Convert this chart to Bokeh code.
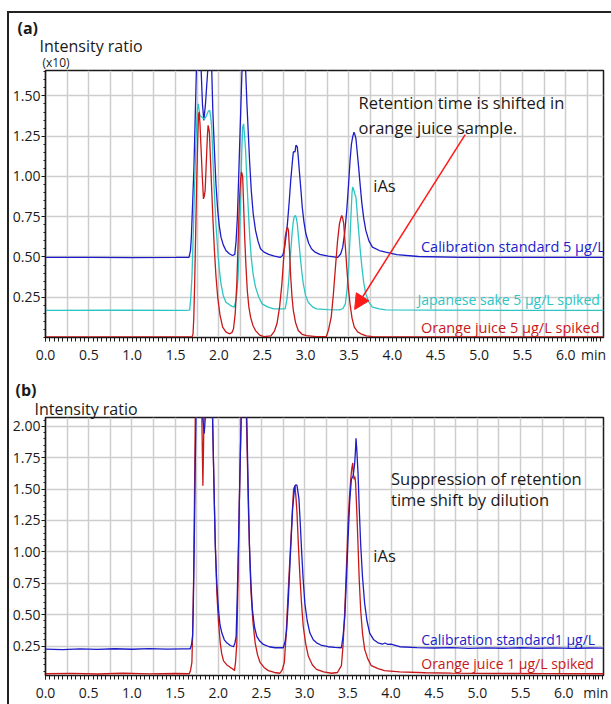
from bokeh.plotting import figure
from bokeh.layouts import column
from bokeh.models import (Range1d, FixedTicker, SingleIntervalTicker, PrintfTickFormatter,
                          Label, Arrow, NormalHead, Title)
from bokeh.embed import file_html
from bokeh.resources import INLINE

FONT = "Open Sans"

# ---------------- data ----------------
# panel (a): retention time (min), intensity ratio (x10)
a_cal = [(0.00,0.497),(0.50,0.498),(1.00,0.496),(1.50,0.497),(1.655,0.498),(1.672,0.54),(1.682,0.623),(1.698,0.85),
         (1.712,1.058),(1.728,1.40),(1.740,1.66),(1.765,1.70),(1.795,1.66),(1.810,1.45),(1.826,1.348),(1.845,1.45),
         (1.871,1.66),(1.895,1.70),(1.917,1.66),(1.930,1.40),(1.948,1.161),(1.966,0.95),(1.986,0.789),(2.005,0.69),
         (2.024,0.623),(2.050,0.575),(2.081,0.540),(2.120,0.52),(2.156,0.509),(2.183,0.516),(2.198,0.60),(2.213,0.747),
         (2.228,1.00),(2.243,1.265),(2.266,1.66),(2.288,1.70),(2.308,1.66),(2.323,1.45),(2.339,1.265),(2.355,1.08),
         (2.373,0.913),(2.395,0.77),(2.422,0.665),(2.450,0.60),(2.479,0.551),(2.52,0.53),(2.574,0.516),(2.64,0.505),
         (2.707,0.497),(2.735,0.51),(2.752,0.54),(2.770,0.61),(2.790,0.706),(2.810,0.84),(2.828,0.975),(2.845,1.08),
         (2.858,1.151),(2.870,1.155),(2.877,1.151),(2.888,1.193),(2.896,1.19),(2.904,1.183),(2.915,1.12),(2.927,1.037),
         (2.945,0.92),(2.961,0.809),(2.980,0.72),(3.003,0.644),(3.035,0.585),(3.067,0.551),(3.11,0.53),(3.162,0.516),
         (3.26,0.505),(3.371,0.497),(3.405,0.52),(3.428,0.561),(3.450,0.65),(3.474,0.789),(3.495,0.95),(3.512,1.099),
         (3.528,1.20),(3.542,1.244),(3.557,1.275),(3.568,1.26),(3.580,1.234),(3.595,1.15),(3.611,1.058),(3.630,0.94),
         (3.649,0.83),(3.670,0.74),(3.694,0.665),(3.73,0.60),(3.770,0.561),(3.85,0.54),(3.922,0.530),(4.05,0.515),
         (4.3,0.503),(4.8,0.498),(5.5,0.497),(6.0,0.497),(6.45,0.497)]

a_sake = [(0.00,0.168),(0.8,0.170),(1.60,0.168),(1.663,0.170),(1.676,0.25),(1.689,0.375),(1.705,0.66),(1.720,0.955),
          (1.735,1.22),(1.750,1.41),(1.761,1.451),(1.770,1.42),(1.780,1.379),(1.800,1.37),(1.820,1.36),(1.833,1.358),
          (1.850,1.37),(1.865,1.39),(1.879,1.406),(1.894,1.41),(1.905,1.37),(1.917,1.306),(1.930,1.12),(1.948,0.892),
          (1.966,0.70),(1.986,0.54),(2.005,0.42),(2.024,0.333),(2.050,0.26),(2.081,0.219),(2.130,0.20),(2.176,0.188),
          (2.200,0.24),(2.221,0.375),(2.236,0.60),(2.251,0.851),(2.263,1.15),(2.274,1.306),(2.285,1.327),(2.296,1.25),
          (2.308,1.161),(2.322,0.98),(2.339,0.789),(2.355,0.63),(2.373,0.495),(2.395,0.39),(2.422,0.313),(2.46,0.25),
          (2.498,0.209),(2.56,0.19),(2.631,0.178),(2.764,0.178),(2.785,0.24),(2.802,0.333),(2.820,0.47),(2.840,0.623),
          (2.855,0.71),(2.867,0.747),(2.882,0.758),(2.893,0.74),(2.904,0.706),(2.918,0.62),(2.935,0.52),(2.953,0.42),
          (2.973,0.333),(3.000,0.26),(3.030,0.219),(3.08,0.19),(3.124,0.178),(3.25,0.173),(3.390,0.172),(3.430,0.18),
          (3.458,0.209),(3.478,0.30),(3.496,0.437),(3.512,0.62),(3.527,0.809),(3.535,0.90),(3.542,0.934),(3.550,0.925),
          (3.557,0.913),(3.568,0.89),(3.580,0.872),(3.595,0.77),(3.611,0.665),(3.630,0.54),(3.649,0.437),(3.670,0.34),
          (3.694,0.271),(3.73,0.22),(3.770,0.188),(3.85,0.178),(3.922,0.172),(4.5,0.170),(5.5,0.168),(6.45,0.168)]

a_oj = [(0.00,0.003),(1.0,0.004),(1.690,0.004),(1.701,0.02),(1.710,0.12),(1.720,0.333),(1.732,0.65),(1.743,0.955),
        (1.755,1.22),(1.765,1.386),(1.773,1.40),(1.782,1.32),(1.795,1.161),(1.808,1.00),(1.822,0.861),(1.832,0.88),
        (1.841,0.913),(1.850,1.03),(1.860,1.161),(1.868,1.26),(1.875,1.317),(1.882,1.30),(1.890,1.275),(1.903,1.10),
        (1.917,0.913),(1.932,0.72),(1.948,0.54),(1.966,0.38),(1.986,0.25),(2.012,0.14),(2.043,0.064),(2.08,0.035),
        (2.119,0.023),(2.150,0.03),(2.168,0.054),(2.188,0.15),(2.206,0.333),(2.222,0.60),(2.236,0.851),(2.250,0.98),
        (2.259,1.027),(2.266,1.02),(2.274,0.996),(2.285,0.82),(2.297,0.623),(2.312,0.44),(2.327,0.292),(2.345,0.19),
        (2.365,0.126),(2.392,0.075),(2.422,0.043),(2.47,0.015),(2.517,0.005),(2.60,0.01),(2.640,0.04),(2.669,0.085),
        (2.700,0.19),(2.726,0.333),(2.745,0.48),(2.764,0.623),(2.780,0.67),(2.790,0.685),(2.802,0.665),(2.815,0.53),
        (2.828,0.375),(2.843,0.25),(2.858,0.168),(2.885,0.09),(2.915,0.043),(2.96,0.02),(3.010,0.012),(3.12,0.006),
        (3.238,0.005),(3.265,0.05),(3.295,0.126),(3.320,0.27),(3.344,0.437),(3.368,0.60),(3.390,0.706),(3.405,0.74),
        (3.417,0.758),(3.428,0.74),(3.439,0.706),(3.456,0.58),(3.474,0.437),(3.492,0.31),(3.512,0.209),(3.535,0.12),
        (3.561,0.064),(3.600,0.035),(3.637,0.023),(3.70,0.01),(3.770,0.005),(4.5,0.004),(5.5,0.003),(6.45,0.003)]

# panel (b): retention time (min), intensity ratio
b_cal = [(0.00,0.226),(0.2,0.222),(0.4,0.228),(0.6,0.224),(0.8,0.229),(1.0,0.225),(1.2,0.23),(1.4,0.226),(1.6,0.228),
         (1.676,0.229),(1.690,0.26),(1.703,0.328),(1.712,0.60),(1.722,1.057),(1.732,1.60),(1.742,2.07),(1.765,2.10),
         (1.800,2.10),(1.820,2.07),(1.838,1.943),(1.850,2.07),(1.880,2.10),(1.915,2.10),(1.934,2.07),(1.950,1.55),
         (1.965,1.057),(1.983,0.75),(2.003,0.536),(2.020,0.42),(2.042,0.354),(2.070,0.30),(2.099,0.276),(2.14,0.255),
         (2.176,0.245),(2.192,0.27),(2.207,0.328),(2.220,0.65),(2.234,1.057),(2.250,1.60),(2.265,2.07),(2.295,2.10),
         (2.330,2.07),(2.345,1.55),(2.361,1.057),(2.378,0.75),(2.396,0.536),(2.420,0.40),(2.446,0.328),(2.48,0.29),
         (2.522,0.263),(2.59,0.245),(2.657,0.237),(2.753,0.237),(2.775,0.29),(2.792,0.380),(2.810,0.60),(2.830,0.901),
         (2.846,1.13),(2.861,1.344),(2.875,1.45),(2.888,1.526),(2.900,1.535),(2.911,1.531),(2.922,1.48),(2.934,1.422),
         (2.950,1.22),(2.965,1.005),(2.983,0.78),(3.003,0.588),(3.030,0.45),(3.061,0.354),(3.10,0.30),(3.138,0.276),
         (3.20,0.255),(3.272,0.245),(3.35,0.24),(3.426,0.237),(3.445,0.33),(3.465,0.484),(3.485,0.80),(3.503,1.109),
         (3.522,1.40),(3.541,1.578),(3.561,1.604),(3.570,1.65),(3.580,1.708),(3.588,1.80),(3.595,1.904),(3.605,1.80),
         (3.618,1.63),(3.632,1.35),(3.649,1.057),(3.670,0.80),(3.695,0.588),(3.722,0.45),(3.753,0.354),(3.80,0.30),
         (3.849,0.276),(3.90,0.265),(3.930,0.275),(3.964,0.263),(4.00,0.266),(4.1,0.245),(4.3,0.238),(4.5,0.235),
         (4.7,0.238),(4.9,0.232),(5.1,0.236),(5.3,0.233),(5.5,0.237),(5.7,0.233),(5.9,0.236),(6.1,0.232),(6.3,0.235),
         (6.46,0.234)]

b_oj = [(0.00,0.030),(0.3,0.033),(0.6,0.028),(0.9,0.034),(1.2,0.029),(1.5,0.032),(1.665,0.03),(1.680,0.06),(1.695,0.12),
        (1.705,0.40),(1.715,0.797),(1.725,1.45),(1.734,2.07),(1.760,2.10),(1.810,2.07),(1.822,1.526),(1.835,2.07),
        (1.870,2.10),(1.920,2.10),(1.934,2.07),(1.945,1.70),(1.957,1.318),(1.970,0.97),(1.984,0.667),(2.003,0.44),
        (2.023,0.276),(2.040,0.19),(2.061,0.133),(2.10,0.10),(2.138,0.081),(2.165,0.07),(2.188,0.055),(2.200,0.12),
        (2.215,0.276),(2.228,0.75),(2.242,1.318),(2.265,2.07),(2.295,2.10),(2.326,2.07),(2.338,1.70),(2.350,1.318),
        (2.365,0.95),(2.380,0.667),(2.402,0.44),(2.427,0.276),(2.455,0.18),(2.484,0.12),(2.53,0.08),(2.580,0.055),
        (2.65,0.04),(2.715,0.034),(2.740,0.06),(2.765,0.12),(2.785,0.33),(2.803,0.588),(2.822,0.85),(2.842,1.109),
        (2.858,1.33),(2.872,1.50),(2.888,1.526),(2.900,1.43),(2.911,1.318),(2.928,1.05),(2.946,0.797),(2.965,0.58),
        (2.984,0.406),(3.012,0.27),(3.042,0.172),(3.09,0.10),(3.138,0.065),(3.22,0.045),(3.311,0.034),(3.380,0.04),
        (3.426,0.094),(3.445,0.26),(3.465,0.536),(3.485,0.90),(3.503,1.240),(3.520,1.45),(3.534,1.578),(3.545,1.66),
        (3.557,1.708),(3.565,1.62),(3.573,1.578),(3.582,1.60),(3.590,1.55),(3.605,1.30),(3.618,1.057),(3.632,0.78),
        (3.649,0.536),(3.670,0.35),(3.695,0.224),(3.730,0.15),(3.772,0.094),(3.85,0.07),(3.926,0.055),(4.1,0.045),
        (4.4,0.038),(4.7,0.035),(5.0,0.033),(5.4,0.032),(5.8,0.031),(6.2,0.030),(6.46,0.030)]

x_ticks = [0.0, 0.5, 1.0, 1.5, 2.0, 2.5, 3.0, 3.5, 4.0, 4.5, 5.0, 5.5, 6.0]
ya_ticks = [0.25, 0.50, 0.75, 1.00, 1.25, 1.50]
yb_ticks = [0.25, 0.50, 0.75, 1.00, 1.25, 1.50, 1.75, 2.00]
unit_pos_a = 6.32   # where the "min" unit sits on the time axis
unit_pos_b = 6.37

a_labels = ["Calibration standard 5 µg/L", "Japanese sake 5 µg/L spiked", "Orange juice 5 µg/L spiked"]
b_labels = ["Calibration standard1 µg/L", "Orange juice 1 µg/L spiked"]

BLUE = "#1c1cc8"
CYAN = "#2ec4c4"
RED = "#c81818"
ARROW = "#ff1a1a"
TXT = "#1a1a1a"


def style(p, yticks, unit_pos):
    p.xaxis.ticker = FixedTicker(ticks=x_ticks + [unit_pos],
                                 minor_ticks=[round(i * 0.05, 2) for i in range(0, 131)])
    p.yaxis.ticker = FixedTicker(ticks=yticks, minor_ticks=[round(i * 0.05, 2) for i in range(0, 45)])
    p.xaxis.formatter = PrintfTickFormatter(format="%.1f")
    p.xaxis.major_label_overrides = {unit_pos: "min"}
    p.yaxis.formatter = PrintfTickFormatter(format="%.2f")
    p.xgrid.ticker = SingleIntervalTicker(interval=0.25)
    p.ygrid.ticker = SingleIntervalTicker(interval=0.25)
    for g in (p.xgrid, p.ygrid):
        g.grid_line_color = "#cdcdcd"
        g.grid_line_width = 1.5
    for ax in (p.xaxis, p.yaxis):
        ax.axis_line_color = TXT
        ax.axis_line_width = 1.2
        ax.major_tick_line_color = TXT
        ax.minor_tick_line_color = TXT
        ax.major_tick_in = 0
        ax.minor_tick_in = 0
        ax.major_label_text_font = FONT
        ax.major_label_text_font_size = "14px"
        ax.major_label_text_color = TXT
    p.xaxis.major_tick_out = 4
    p.xaxis.minor_tick_out = 4
    p.yaxis.major_tick_out = 4
    p.yaxis.minor_tick_out = 2
    p.xaxis.major_label_standoff = 3
    p.yaxis.major_label_standoff = 1
    try:
        p.yaxis.major_label_text_baseline = "top"
    except Exception:
        pass
    p.outline_line_color = TXT
    p.outline_line_width = 1.5
    p.background_fill_color = "white"
    p.border_fill_color = "white"


def label(p, x, y, text, size, color=TXT):
    p.add_layout(Label(x=x, y=y, text=text, text_font=FONT, text_font_size=size,
                       text_color=color, text_baseline="middle", text_align="left"))


def head(p, text, size, offset, bold=False, standoff=0):
    p.add_layout(Title(text=text, text_font=FONT, text_font_size=size, text_color=TXT,
                       text_font_style="bold" if bold else "normal", align="left",
                       offset=offset, standoff=standoff), "above")


# ---------------- panel (a) ----------------
fa = figure(width=602, height=357, output_backend="svg", toolbar_location=None, title=None,
            x_range=Range1d(0, 6.435), y_range=Range1d(0, 1.658),
            min_border_left=30, min_border_right=7, min_border_top=57, min_border_bottom=33)
style(fa, ya_ticks, unit_pos_a)
for series, col in ((a_cal, BLUE), (a_sake, CYAN), (a_oj, RED)):
    fa.line([t for t, v in series], [v for t, v in series], line_color=col, line_width=1.3)

head(fa, "(x10)", "12px", -3)
head(fa, "Intensity ratio", "16px", -6, standoff=-11)
head(fa, "(a)", "16px", -28, bold=True, standoff=0)

label(fa, 3.61, 1.457, "Retention time is shifted in", "16.5px")
label(fa, 3.61, 1.307, "orange juice sample.", "16.5px")
label(fa, 3.78, 0.941, "iAs", "16.5px")
label(fa, 4.33, 0.562, a_labels[0], "14.5px", BLUE)
label(fa, 4.29, 0.233, a_labels[1], "14px", CYAN)
label(fa, 4.33, 0.059, a_labels[2], "14.5px", RED)

fa.add_layout(Arrow(end=NormalHead(size=15, fill_color=ARROW, line_color=ARROW),
                    x_start=4.84, y_start=1.26, x_end=3.565, y_end=0.174,
                    line_color=ARROW, line_width=1.5))

# ---------------- panel (b) ----------------
fb = figure(width=602, height=334, output_backend="svg", toolbar_location=None, title=None,
            x_range=Range1d(0, 6.46), y_range=Range1d(0.016, 2.07),
            min_border_left=34, min_border_right=8, min_border_top=47, min_border_bottom=22)
style(fb, yb_ticks, unit_pos_b)
for series, col in ((b_oj, RED), (b_cal, BLUE)):
    fb.line([t for t, v in series], [v for t, v in series], line_color=col, line_width=1.3)

head(fb, "Intensity ratio", "16px", -11, standoff=-4)
head(fb, "(b)", "16px", -30, bold=True, standoff=-6)

label(fb, 4.0, 1.586, "Suppression of retention", "16.5px")
label(fb, 4.0, 1.414, "time shift by dilution", "16.5px")
label(fb, 3.795, 0.969, "iAs", "16.5px")
label(fb, 4.35, 0.305, b_labels[0], "14px", BLUE)
label(fb, 4.35, 0.109, b_labels[1], "14px", RED)

lay = column(fa, fb, spacing=0, margin=(11, 0, 0, 7),
             styles={"border-top": "2px solid #222", "border-left": "2px solid #222"})

open("out.html", "w").write(file_html(lay, INLINE))
